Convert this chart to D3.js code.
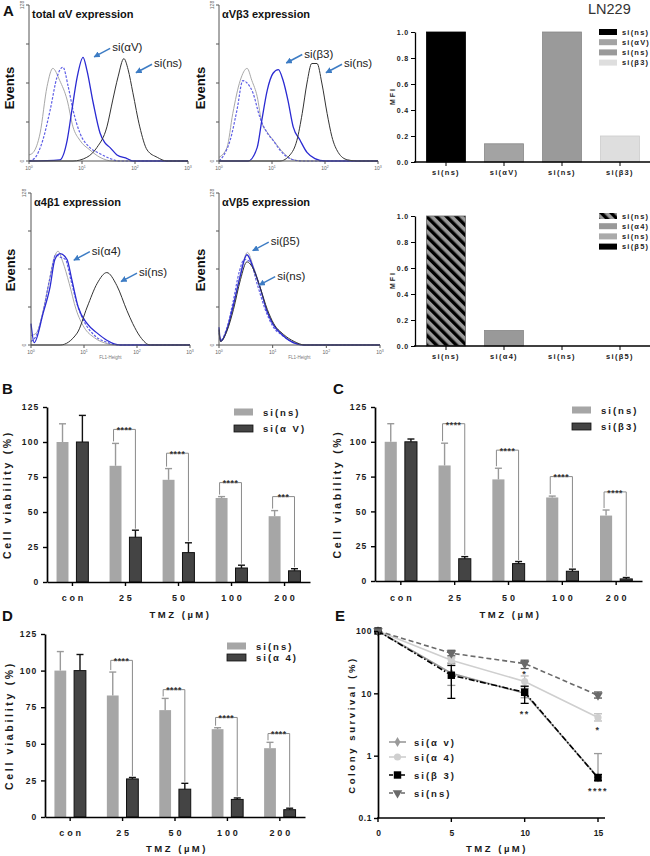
<!DOCTYPE html>
<html><head><meta charset="utf-8">
<script src="https://cdn.jsdelivr.net/npm/d3@7"></script>
<style>body{margin:0;background:#fff}text{font-family:"Liberation Sans",Arial,sans-serif}</style>
</head><body>
<script>
// ===================== DATA =====================
// Panel A histograms: [log10(FL1-Height), events]
const histTitles = ["total αV expression", "αVβ3 expression", "α4β1 expression", "αVβ5 expression"];
const h1Gray = [[0,5],[0.08,7],[0.21,23],[0.34,61],[0.45,76],[0.58,66],[0.72,50],[0.83,28],[0.96,17],[1.15,9],[1.34,3],[1.58,0],[3,0]];
const h1BlueDash = [[0,0],[0.1,2],[0.26,17],[0.4,42],[0.53,69],[0.64,77],[0.74,61],[0.83,42],[0.96,23],[1.15,11],[1.34,6],[1.53,2],[1.7,0],[3,0]];
const h1Blue = [[0,0],[0.58,1],[0.72,17],[0.81,42],[0.91,69],[1.02,85],[1.09,75],[1.21,48],[1.34,23],[1.43,15],[1.53,11],[1.66,5],[1.85,2],[1.96,0],[3,0]];
const h1Black = [[0,0],[0.83,0],[1.09,3],[1.28,11],[1.47,28],[1.58,50],[1.68,69],[1.79,84],[1.87,75],[1.96,56],[2.09,28],[2.23,9],[2.42,3],[2.6,0],[3,0]];
const h2Gray = [[0,3],[0.15,11],[0.26,39],[0.4,66],[0.53,76],[0.62,66],[0.72,53],[0.81,31],[0.92,23],[1.06,15],[1.21,7],[1.4,1],[1.6,0],[3,0]];
const h2BlueDash = [[0,0],[0.08,4],[0.21,17],[0.34,42],[0.45,66],[0.53,64],[0.64,56],[0.77,36],[0.91,23],[1.02,17],[1.15,9],[1.34,2],[1.55,0],[3,0]];
const h2Blue = [[0,0],[0.55,0],[0.72,11],[0.81,34],[0.91,58],[1.02,72],[1.12,75],[1.21,66],[1.3,50],[1.4,28],[1.53,17],[1.66,7],[1.81,2],[2.0,0],[3,0]];
const h2Black = [[0,0],[1.15,0],[1.34,5],[1.47,17],[1.57,39],[1.66,64],[1.75,80],[1.85,80],[1.94,64],[2.04,39],[2.13,20],[2.25,7],[2.42,1],[2.6,0],[3,0]];
const h3Gray = [[0,8],[0.1,10],[0.22,27],[0.35,55],[0.45,75],[0.51,79],[0.6,70],[0.72,52],[0.85,30],[1.0,15],[1.2,6],[1.45,1],[1.6,0],[3,0]];
const h3BlueDash = [[0,3],[0.1,8],[0.22,26],[0.35,55],[0.47,76],[0.55,74],[0.65,72],[0.75,55],[0.88,33],[1.0,20],[1.2,8],[1.45,2],[1.65,0],[3,0]];
const h3Blue = [[0,18],[0.06,2],[0.23,27],[0.36,49],[0.45,72],[0.55,77],[0.68,72],[0.77,55],[0.89,32],[1.06,18],[1.25,10],[1.43,4],[1.68,0],[3,0]];
const h3Black = [[0,0],[0.55,0],[0.87,10],[1.06,32],[1.25,52],[1.43,61],[1.62,50],[1.81,29],[1.92,18],[2.06,7],[2.25,0],[3,0]];
const h4Gray = [[0,12],[0.03,3],[0.15,14],[0.27,34],[0.4,60],[0.53,78],[0.64,66],[0.77,48],[0.9,28],[1.02,17],[1.2,8],[1.4,2],[1.6,0],[3,0]];
const h4BlueDash = [[0,10],[0.03,4],[0.15,15],[0.26,36],[0.38,62],[0.47,72],[0.58,70],[0.72,50],[0.86,30],[1.0,16],[1.18,8],[1.4,2],[1.6,0],[3,0]];
const h4Blue = [[0,15],[0.03,3],[0.15,13],[0.26,32],[0.39,57],[0.52,76],[0.63,66],[0.76,49],[0.89,29],[1.0,18],[1.19,8],[1.38,2],[1.57,0],[3,0]];
const h4Black = [[0,13],[0.03,3],[0.15,12],[0.27,30],[0.4,55],[0.52,70],[0.64,64],[0.77,48],[0.9,30],[1.02,18],[1.2,9],[1.4,3],[1.6,0],[3,0]];
// annotation arrows: [label, log10 at tip, events at tip]
const h1Ann = [["si(αV)",1.21,85],["si(ns)",2.0,72]];
const h2Ann = [["si(β3)",1.25,80],["si(ns)",2.0,72]];
const h3Ann = [["si(α4)",0.79,71],["si(ns)",1.68,53]];
const h4Ann = [["si(β5)",0.61,79],["si(ns)",0.73,50]];

// Panel A MFI bars
const mfiTopCats = ["si(ns)","si(αV)","si(ns)","si(β3)"];
const mfiTopVals = [1.0, 0.14, 1.0, 0.2];
const mfiBotCats = ["si(ns)","si(α4)","si(ns)","si(β5)"];
const mfiBotVals = [1.0, 0.12, 0, 0];
const mfiTicks = [0,0.2,0.4,0.6,0.8,1.0];

// Panels B-D: cell viability (%)
const tmzCats = ["con","25","50","100","200"];
const nsViab = [100, 83, 73, 60, 47];
const nsSD = [13, 16, 8, 1, 4];
const siAV = [100, 32, 21, 10, 8];
const siAVSD = [19, 5, 7, 2, 1.5];
const siB3 = [100, 16, 12.5, 7, 1.5];
const siB3SD = [2, 1.5, 1.5, 1.5, 1];
const siA4 = [100, 26, 19, 12, 5];
const siA4SD = [11, 1, 4, 1, 1];
const bracketB = [109, 92, 71, 61];
const bracketC = [113, 94, 75, 64];
const bracketD = [107, 87, 68, 57];
const starsB = ["****","****","****","***"];
const starsC = ["****","****","****","****"];
const starsD = ["****","****","****","****"];
const viabTicks = [0,25,50,75,100,125];

// Panel E: colony survival (%)
const eDoses = [0, 5, 10, 15];
const eAV = [100, 21, 10, 0.45];
const eAVhi = [100, 30, 12, 1.08];
const eAVlo = [100, 13.4, 8.5, 0.45];
const eA4 = [100, 34, 15.5, 4.1];
const eA4hi = [100, 37, 19, 4.7];
const eA4lo = [100, 31, 13, 3.6];
const eB3 = [100, 19.5, 10.4, 0.44];
const eB3hi = [100, 28, 13, 0.5];
const eB3lo = [100, 8.3, 6.9, 0.4];
const eNS = [100, 44, 30, 9.3];
const eNShi = [100, 49, 34, 10.5];
const eNSlo = [100, 40, 25, 8.4];
const eStars = [[10, 22, "*"], [10, 5.0, "**"], [15, 2.8, "*"], [15, 0.29, "****"]];
const eYTicks = [0.1, 1, 10, 100];
const eXTicks = [0, 5, 10, 15];

// ===================== DRAW =====================
const FF = '"Liberation Sans",Arial,sans-serif';
const svg = d3.select("body").append("svg").attr("width", 650).attr("height", 856).style("display","block");
const defs = svg.append("defs");
defs.append("marker").attr("id","arr").attr("viewBox","0 0 10 10").attr("refX",9).attr("refY",5)
  .attr("markerWidth",4.2).attr("markerHeight",4.2).attr("orient","auto")
  .append("path").attr("d","M0,0 L10,5 L0,10 z").attr("fill","#3d7cc4");
const hatch = defs.append("pattern").attr("id","hatch").attr("patternUnits","userSpaceOnUse")
  .attr("width",7).attr("height",7).attr("patternTransform","rotate(-45)");
hatch.append("rect").attr("width",7).attr("height",7).attr("fill","#9a9a9a");
hatch.append("rect").attr("width",3.4).attr("height",7).attr("fill","#000");

function letter(t, x, y) {
  svg.append("text").attr("x",x).attr("y",y).attr("font-size",15).attr("font-weight","bold").attr("fill","#111").text(t);
}

// ---------- Histograms ----------
const histCfg = [
  {curves:[h1Gray,h1BlueDash,h1Blue,h1Black], ann:h1Ann, x0:29, x1:188, yb:161, yt:5, ex:14, ey:88, fl:false},
  {curves:[h2Gray,h2BlueDash,h2Blue,h2Black], ann:h2Ann, x0:219, x1:378, yb:161, yt:5, ex:205, ey:88, fl:false},
  {curves:[h3Gray,h3BlueDash,h3Blue,h3Black], ann:h3Ann, x0:31, x1:190, yb:345, yt:193, ex:15, ey:270, fl:true},
  {curves:[h4Gray,h4BlueDash,h4Blue,h4Black], ann:h4Ann, x0:219, x1:380, yb:345, yt:193, ex:205, ey:270, fl:true}
];
const curveStyles = [
  {c:"#a8a8a8", w:1, d:null},
  {c:"#5f5fe6", w:1.2, d:"2.5,1.5"},
  {c:"#2a2ad2", w:1.3, d:null},
  {c:"#333", w:1, d:null}
];
histCfg.forEach((h, hi) => {
  const g = svg.append("g");
  const x = d3.scaleLinear().domain([0,3]).range([h.x0, h.x1]);
  const y = d3.scaleLinear().domain([0,128]).range([h.yb, h.yt]);
  const line = d3.line().x(d => x(d[0])).y(d => y(d[1])).curve(d3.curveMonotoneX);
  h.curves.forEach((c, i) => {
    const s = curveStyles[i];
    g.append("path").attr("d", line(c)).attr("fill","none").attr("stroke", s.c)
      .attr("stroke-width", s.w).attr("stroke-dasharray", s.d);
  });
  g.append("line").attr("x1",h.x0).attr("x2",h.x1).attr("y1",h.yb).attr("y2",h.yb).attr("stroke","#555").attr("stroke-width",1);
  g.append("line").attr("x1",h.x0).attr("x2",h.x0).attr("y1",h.yb).attr("y2",h.yt).attr("stroke","#555").attr("stroke-width",1);
  g.selectAll(".xt").data([0,1,2,3]).join("line").attr("x1",d=>x(d)).attr("x2",d=>x(d))
    .attr("y1",h.yb).attr("y2",h.yb+3).attr("stroke","#555");
  g.selectAll(".yt").data([0,32,64,96,128]).join("line").attr("x1",h.x0-3).attr("x2",h.x0)
    .attr("y1",d=>y(d)).attr("y2",d=>y(d)).attr("stroke","#555");
  const xl = g.selectAll(".xl").data([0,1,2,3]).join("text").attr("x",d=>x(d)).attr("y",h.yb+9)
    .attr("text-anchor","middle").attr("font-size",5).attr("fill","#666");
  xl.append("tspan").text("10");
  xl.append("tspan").attr("dy",-2).attr("font-size",3.5).text(d=>d);
  [0,128].forEach(v => {
    g.append("text").attr("transform",`translate(${h.x0-5},${y(v)}) rotate(-90)`).attr("text-anchor","middle")
      .attr("font-size",5).attr("fill","#666").text(v);
  });
  if (h.fl) g.append("text").attr("x",(h.x0+h.x1)/2).attr("y",h.yb+14).attr("text-anchor","middle")
      .attr("font-size",4.5).attr("fill","#777").text("FL1-Height");
  g.append("text").attr("x",h.x0+3).attr("y",h.yt+13).attr("font-size",11).attr("font-weight","bold")
    .attr("fill","#111").text(histTitles[hi]);
  g.append("text").attr("transform",`translate(${h.ex},${h.ey}) rotate(-90)`).attr("text-anchor","middle")
    .attr("font-size",13).attr("font-weight","bold").attr("fill","#111").text("Events");
  h.ann.forEach(a => {
    const tx = x(a[1]), ty = y(a[2]);
    g.append("line").attr("x1",tx+17).attr("y1",ty-9).attr("x2",tx+1).attr("y2",ty-0.5)
      .attr("stroke","#3d7cc4").attr("stroke-width",1.5).attr("marker-end","url(#arr)");
    g.append("text").attr("x",tx+19).attr("y",ty-6).attr("font-size",11.5).attr("fill","#222").text(a[0]);
  });
});
letter("A", 3, 16);
svg.append("text").attr("x",588).attr("y",14).attr("font-size",14.5).attr("fill","#333").text("LN229");

// ---------- MFI bar charts ----------
function mfiChart(cats, vals, fills, strokes, yTop, yBot) {
  const g = svg.append("g");
  const x = d3.scalePoint().domain(d3.range(cats.length)).range([417,649]).padding(0.5);
  const y = d3.scaleLinear().domain([0,1]).range([yBot, yTop]);
  g.selectAll("rect.bar").data(vals).join("rect").attr("class","bar")
    .attr("x",(d,i)=>x(i)-19.5).attr("width",39).attr("y",d=>y(d)).attr("height",d=>yBot-y(d))
    .attr("fill",(d,i)=>fills[i]).attr("stroke",(d,i)=>d>0?strokes[i]:null).attr("stroke-width",0.8);
  const ya = g.append("g").attr("transform",`translate(415,0)`)
    .call(d3.axisLeft(y).tickValues(mfiTicks).tickFormat(d3.format(".1f")).tickSize(4).tickSizeOuter(0));
  ya.select(".domain").attr("stroke","#000").attr("stroke-width",1.3);
  ya.selectAll(".tick line").attr("stroke","#000").attr("stroke-width",1);
  ya.selectAll("text").attr("font-size",7).attr("font-weight","bold").attr("letter-spacing",0.8)
    .attr("fill","#222").attr("x",-6).attr("font-family",FF);
  g.append("line").attr("x1",414).attr("x2",650).attr("y1",yBot).attr("y2",yBot).attr("stroke","#000").attr("stroke-width",1.5);
  g.selectAll(".xt").data(cats).join("line").attr("x1",(d,i)=>x(i)).attr("x2",(d,i)=>x(i))
    .attr("y1",yBot).attr("y2",yBot+4).attr("stroke","#000");
  g.selectAll(".xl").data(cats).join("text").attr("x",(d,i)=>x(i)).attr("y",yBot+13)
    .attr("text-anchor","middle").attr("font-size",7.5).attr("font-weight","bold").attr("letter-spacing",1.3)
    .attr("fill","#222").text(d=>d);
  g.append("text").attr("transform",`translate(395,${(yTop+yBot)/2}) rotate(-90)`).attr("text-anchor","middle")
    .attr("font-size",7).attr("font-weight","bold").attr("fill","#222").text("M F I");
  cats.forEach((c,i) => {
    const ly = yTop + i*10.2;
    g.append("rect").attr("x",599).attr("y",ly-3).attr("width",18).attr("height",6).attr("fill",fills[i]);
    g.append("text").attr("x",622).attr("y",ly+2.5).attr("font-size",7.5).attr("font-weight","bold")
      .attr("letter-spacing",1.2).attr("fill","#222").text(c);
  });
}
mfiChart(mfiTopCats, mfiTopVals, ["#000","#a3a3a3","#9a9a9a","#dedede"], ["#000","#888","#888","#ccc"], 32, 162);
mfiChart(mfiBotCats, mfiBotVals, ["url(#hatch)","#999","#aaa","#000"], ["#666","#888","#888","#000"], 216, 346);

// ---------- Viability panels ----------
function viabPanel(o) {
  const g = svg.append("g");
  const x0 = d3.scaleBand().domain(tmzCats).range(o.xr).paddingInner(0.4).paddingOuter(0.18);
  const x1 = d3.scaleBand().domain(["ns","si"]).range([0, x0.bandwidth()]).paddingInner(0.4);
  const bw = x1.bandwidth();
  const y = d3.scaleLinear().domain([0,125]).range(o.yr);
  const cx = (c, k) => x0(c) + x1(k) + bw/2;
  g.selectAll("rect.ns").data(nsViab).join("rect").attr("class","ns")
    .attr("x",(d,i)=>x0(tmzCats[i])+x1("ns")).attr("width",bw).attr("y",d=>y(d)).attr("height",d=>o.yr[0]-y(d))
    .attr("fill","#a6a6a6");
  g.selectAll("rect.si").data(o.si).join("rect").attr("class","si")
    .attr("x",(d,i)=>x0(tmzCats[i])+x1("si")).attr("width",bw).attr("y",d=>y(d)).attr("height",d=>o.yr[0]-y(d))
    .attr("fill","#444").attr("stroke","#111").attr("stroke-width",1);
  function err(vals, sd, k, col) {
    vals.forEach((v,i) => {
      const xc = cx(tmzCats[i], k), yt = y(v+sd[i]);
      g.append("line").attr("x1",xc).attr("x2",xc).attr("y1",y(v)).attr("y2",yt).attr("stroke",col).attr("stroke-width",1.4);
      g.append("line").attr("x1",xc-3.5).attr("x2",xc+3.5).attr("y1",yt).attr("y2",yt).attr("stroke",col).attr("stroke-width",1.4);
    });
  }
  err(nsViab, nsSD, "ns", "#9a9a9a");
  err(o.si, o.siSD, "si", "#111");
  o.br.forEach((b,j) => {
    const i = j+1, c = tmzCats[i];
    const xl = cx(c,"ns")-2, xr = cx(c,"si"), yb = y(b);
    g.append("path").attr("d",`M${xl},${y(nsViab[i]+nsSD[i])-2}V${yb}H${xr}V${y(o.si[i]+o.siSD[i])-1.5}`)
      .attr("fill","none").attr("stroke","#8a8a8a").attr("stroke-width",1);
    g.append("text").attr("x",(xl+xr)/2).attr("y",yb+3.8).attr("text-anchor","middle").attr("font-size",8.5)
      .attr("font-weight","bold").attr("letter-spacing",0.6).attr("fill","#333").text(o.stars[j]);
  });
  const ya = g.append("g").attr("transform",`translate(${o.xr[0]},0)`)
    .call(d3.axisLeft(y).tickValues(viabTicks).tickSize(4).tickSizeOuter(0));
  ya.select(".domain").attr("stroke","#000").attr("stroke-width",1.7);
  ya.selectAll(".tick line").attr("stroke","#000").attr("stroke-width",1.4);
  ya.selectAll("text").attr("font-size",8.5).attr("font-weight","bold").attr("letter-spacing",1.2)
    .attr("fill","#1a1a1a").attr("x",-7.5).attr("font-family",FF);
  const xa = g.append("g").attr("transform",`translate(0,${o.yr[0]})`)
    .call(d3.axisBottom(x0).tickSize(4).tickSizeOuter(0));
  xa.select(".domain").attr("stroke","#000").attr("stroke-width",1.7);
  xa.selectAll(".tick line").attr("stroke","#000").attr("stroke-width",1.4);
  xa.selectAll("text").attr("font-size",9).attr("font-weight","bold").attr("letter-spacing",2.8)
    .attr("fill","#1a1a1a").attr("y",o.tickY - o.yr[0]).attr("dy",0).attr("dx",1.4)
    .attr("font-family",FF);
  g.append("text").attr("x",(o.xr[0]+o.xr[1])/2+2).attr("y",o.titleY).attr("text-anchor","middle")
    .attr("font-size",9.5).attr("font-weight","bold").attr("letter-spacing",2.5).attr("fill","#1a1a1a").text("TMZ (µM)");
  g.append("text").attr("transform",`translate(${o.ylx},${(o.yr[0]+o.yr[1])/2}) rotate(-90)`)
    .attr("text-anchor","middle").attr("font-size",10.5).attr("font-weight","bold").attr("letter-spacing",2.7)
    .attr("fill","#1a1a1a").text("Cell viability (%)");
  [["#a6a6a6",null,"si(ns)"],["#444","#111",o.siLabel]].forEach((L,i) => {
    const ly = o.leg[1] + i*o.leg[2];
    g.append("rect").attr("x",o.leg[0]).attr("y",ly-3.5).attr("width",19).attr("height",7).attr("fill",L[0])
      .attr("stroke",L[1]).attr("stroke-width",0.8);
    g.append("text").attr("x",o.leg[0]+29).attr("y",ly+3.7).attr("font-size",9.5).attr("font-weight","bold")
      .attr("letter-spacing",2).attr("fill","#1a1a1a").text(L[2]);
  });
}
viabPanel({xr:[47,310], yr:[582,407], si:siAV, siSD:siAVSD, br:bracketB, stars:starsB, siLabel:"si(α V)",
  tickY:601, titleY:618, ylx:11, leg:[234,412,16.5]});
viabPanel({xr:[375,642], yr:[581,407], si:siB3, siSD:siB3SD, br:bracketC, stars:starsC, siLabel:"si(β3)",
  tickY:601, titleY:618, ylx:341, leg:[572,410,16.5]});
viabPanel({xr:[45,305], yr:[817,634], si:siA4, siSD:siA4SD, br:bracketD, stars:starsD, siLabel:"si(α 4)",
  tickY:836, titleY:852, ylx:13, leg:[227,646,11.5]});
letter("B", 2, 394);
letter("C", 333, 394);
letter("D", 2, 621);
letter("E", 335, 621);

// ---------- Panel E ----------
(function(){
  const g = svg.append("g");
  const x = d3.scaleLinear().domain([0,15]).range([378,598]);
  const y = d3.scaleLog().domain([0.1,100]).range([818,631]);
  const series = [
    {v:eAV, hi:eAVhi, lo:eAVlo, c:"#9a9a9a", ec:"#9a9a9a", dash:null, sym:d3.symbolDiamond, size:30, lab:"si(α v)"},
    {v:eA4, hi:eA4hi, lo:eA4lo, c:"#cfcfcf", ec:"#bdbdbd", dash:null, sym:d3.symbolCircle, size:40, lab:"si(α 4)"},
    {v:eB3, hi:eB3hi, lo:eB3lo, c:"#000", ec:"#000", dash:"6,2,1.5,2", sym:d3.symbolSquare, size:55, lab:"si(β 3)"},
    {v:eNS, hi:eNShi, lo:eNSlo, c:"#6a6a6a", ec:"#555", dash:"5,3", sym:d3.symbolTriangle, size:40, lab:"si(ns)", rot:180}
  ];
  const line = d3.line().x((d,i)=>x(eDoses[i])).y(d=>y(d));
  series.forEach(s => {
    g.append("path").attr("d",line(s.v)).attr("fill","none").attr("stroke",s.c).attr("stroke-width",1.6)
      .attr("stroke-dasharray",s.dash);
  });
  series.forEach(s => {
    s.v.forEach((v,i) => {
      if (i===0) return;
      const xc = x(eDoses[i]);
      g.append("line").attr("x1",xc).attr("x2",xc).attr("y1",y(s.lo[i])).attr("y2",y(s.hi[i])).attr("stroke",s.ec).attr("stroke-width",1.3);
      [s.lo[i], s.hi[i]].forEach(e => g.append("line").attr("x1",xc-4).attr("x2",xc+4).attr("y1",y(e)).attr("y2",y(e))
        .attr("stroke",s.ec).attr("stroke-width",1.3));
    });
    g.selectAll(null).data(s.v).join("path")
      .attr("d", d3.symbol().type(s.sym).size(s.size))
      .attr("transform",(d,i)=>`translate(${x(eDoses[i])},${y(d)}) rotate(${s.rot||0})`)
      .attr("fill",s.c);
  });
  eStars.forEach(st => {
    g.append("text").attr("x",x(st[0])).attr("y",y(st[1])+5).attr("text-anchor","middle").attr("font-size",9)
      .attr("font-weight","bold").attr("letter-spacing",1.5).attr("fill","#333").text(st[2]);
  });
  const ya = g.append("g").attr("transform","translate(378,0)")
    .call(d3.axisLeft(y).tickValues(eYTicks).tickFormat(d=>d).tickSize(4).tickSizeOuter(0));
  ya.select(".domain").attr("stroke","#000").attr("stroke-width",1.7);
  ya.selectAll(".tick line").attr("stroke","#000").attr("stroke-width",1.4);
  ya.selectAll("text").attr("font-size",8.5).attr("font-weight","bold").attr("letter-spacing",0.6)
    .attr("fill","#1a1a1a").attr("x",-6).attr("font-family",FF);
  g.append("line").attr("x1",377).attr("x2",605).attr("y1",818).attr("y2",818).attr("stroke","#000").attr("stroke-width",1.7);
  g.selectAll(".xt").data(eXTicks).join("line").attr("x1",d=>x(d)).attr("x2",d=>x(d)).attr("y1",818).attr("y2",822)
    .attr("stroke","#000").attr("stroke-width",1.4);
  g.selectAll(".xl").data(eXTicks).join("text").attr("x",d=>x(d)+0.5).attr("y",836).attr("text-anchor","middle")
    .attr("font-size",8.5).attr("font-weight","bold").attr("fill","#1a1a1a").text(d=>d);
  g.append("text").attr("x",497).attr("y",852).attr("text-anchor","middle").attr("font-size",9.5).attr("font-weight","bold")
    .attr("letter-spacing",2.5).attr("fill","#1a1a1a").text("TMZ (µM)");
  g.append("text").attr("transform",`translate(355,725) rotate(-90)`).attr("text-anchor","middle")
    .attr("font-size",9.5).attr("font-weight","bold").attr("letter-spacing",2.6).attr("fill","#1a1a1a").text("Colony survival (%)");
  const rows = [742, 757, 775, 793];
  series.forEach((s,i) => {
    const ly = rows[i];
    g.append("line").attr("x1",389).attr("x2",406).attr("y1",ly).attr("y2",ly).attr("stroke",s.c).attr("stroke-width",1.6)
      .attr("stroke-dasharray", s.dash ? "4,2" : null);
    g.append("path").attr("d",d3.symbol().type(s.sym).size(s.size)).attr("transform",`translate(397.5,${ly}) rotate(${s.rot||0})`)
      .attr("fill",s.c);
    g.append("text").attr("x",414).attr("y",ly+3.5).attr("font-size",9.5).attr("font-weight","bold")
      .attr("letter-spacing",2).attr("fill","#1a1a1a").text(s.lab);
  });
})();
</script>
</body></html>
